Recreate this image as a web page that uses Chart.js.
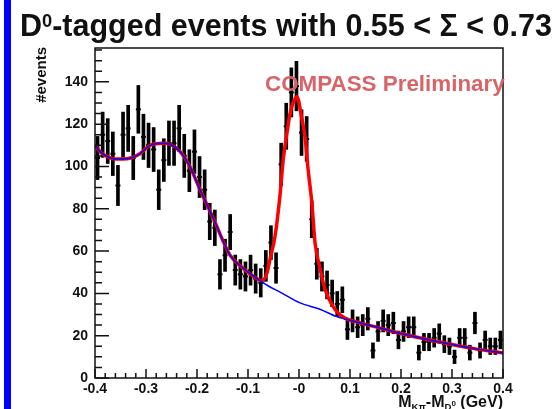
<!DOCTYPE html>
<html>
<head>
<meta charset="utf-8">
<script src="https://cdn.jsdelivr.net/npm/chart.js@4"></script>
<style>
    body { margin: 0; background: #fff; }
    #wrap {
        position: relative;
        width: 556px;
        height: 409px;
        overflow: hidden;
        font-family: "Liberation Sans", Arial, sans-serif;
        font-weight: bold;
        color: #111;
    }
    #wrap canvas { position: absolute; left: 0; top: 0; }
    .side-bar { position: absolute; left: 4px; top: 0; width: 7px; height: 409px; background: #0000ff; }
    .title { position: absolute; left: 20px; top: 10px; font-size: 30.5px; line-height: 30px; white-space: nowrap; }
    .title sup { font-size: 0.6em; position: relative; top: -0.2em; vertical-align: top; }
    .stamp { position: absolute; left: 265px; top: 73px; font-size: 22.4px; line-height: 22px; color: #d96468; white-space: nowrap; }
    .y-title {
        position: absolute; left: 33px; top: 147px; width: 100px;
        font-size: 15px; line-height: 15px; text-align: right;
        transform-origin: top left; transform: rotate(-90deg);
    }
    .x-title { position: absolute; right: 53px; top: 394px; font-size: 16px; line-height: 16px; white-space: nowrap; }
    .x-title sub { font-size: 0.6em; vertical-align: -0.35em; }
</style>
</head>
<body>
<div id="wrap">
    <canvas id="d0-chart" width="556" height="409"></canvas>
    <div class="side-bar"></div>
    <div class="title">D<sup>0</sup>-tagged events with 0.55 &lt; &Sigma; &lt; 0.73</div>
    <div class="stamp">COMPASS Preliminary</div>
    <div class="y-title">#events</div>
    <div class="x-title">M<sub>K&pi;</sub>-M<sub>D<sup>0</sup></sub> (GeV)</div>
</div>
<script>
// histogram bin centres (GeV)
const binCenters = [
    -0.395, -0.385, -0.375, -0.365, -0.355, -0.345, -0.335, -0.325, -0.315, -0.305,
    -0.295, -0.285, -0.275, -0.265, -0.255, -0.245, -0.235, -0.225, -0.215, -0.205,
    -0.195, -0.185, -0.175, -0.165, -0.155, -0.145, -0.135, -0.125, -0.115, -0.105,
    -0.095, -0.085, -0.075, -0.065, -0.055, -0.045, -0.035, -0.025, -0.015, -0.005,
    0.005, 0.015, 0.025, 0.035, 0.045, 0.055, 0.065, 0.075, 0.085, 0.095,
    0.105, 0.115, 0.125, 0.135, 0.145, 0.155, 0.165, 0.175, 0.185, 0.195,
    0.205, 0.215, 0.225, 0.235, 0.245, 0.255, 0.265, 0.275, 0.285, 0.295,
    0.305, 0.315, 0.325, 0.335, 0.345, 0.355, 0.365, 0.375, 0.385, 0.395,
];
const counts = [
    104, 115, 112, 106, 91, 115, 118, 104, 127, 114,
    110, 108, 89, 103, 111, 111, 118, 105, 98, 107,
    95, 89, 74, 71, 49, 58, 69, 51, 49, 48,
    51, 47, 45, 53, 64, 52, 101, 119, 135, 138,
    116, 113, 75, 54, 48, 44, 40, 35, 37, 23,
    27, 24, 25, 28, 13, 22, 27, 25, 26, 18,
    22, 24, 24, 12, 17, 17, 19, 21, 16, 15,
    10, 19, 19, 12, 26, 13, 18, 15, 15, 18,
];
const errors = [
    10.2, 10.7, 10.6, 10.3, 9.5, 10.7, 10.9, 10.2, 11.3, 10.7,
    10.5, 10.4, 9.4, 10.1, 10.5, 10.5, 10.9, 10.2, 9.9, 10.3,
    9.7, 9.4, 8.6, 8.4, 7.0, 7.6, 8.3, 7.1, 7.0, 6.9,
    7.1, 6.9, 6.7, 7.3, 8.0, 7.2, 10.0, 10.9, 11.6, 11.7,
    10.8, 10.6, 8.7, 7.3, 6.9, 6.6, 6.3, 5.9, 6.1, 4.8,
    5.2, 4.9, 5.0, 5.3, 3.6, 4.7, 5.2, 5.0, 5.1, 4.2,
    4.7, 4.9, 4.9, 3.5, 4.1, 4.1, 4.4, 4.6, 4.0, 3.9,
    3.2, 4.4, 4.4, 3.5, 5.1, 3.6, 4.2, 3.9, 3.9, 4.2,
];

// background fit (blue)
const bkgX = [
    -0.4, -0.39, -0.375, -0.36, -0.345, -0.33, -0.312, -0.292, -0.267, -0.253,
    -0.233, -0.214, -0.194, -0.169, -0.135, -0.11, -0.082, -0.06, -0.037, 0.002,
    0.041, 0.074, 0.114, 0.159, 0.212, 0.276, 0.341, 0.4,
];
const bkgY = [
    110, 107, 104.5, 103.5, 103.5, 104, 106, 110, 111, 110.5,
    107, 100, 89, 76, 58, 52, 47, 43.5, 40.6, 35.5,
    32.5, 29, 26.4, 23.6, 20.3, 17, 14, 11.8,
];

// total fit, signal + background (red)
const fitX = [
    -0.4, -0.39, -0.375, -0.36, -0.345, -0.33, -0.312, -0.292, -0.267, -0.253,
    -0.233, -0.214, -0.194, -0.169, -0.135, -0.11, -0.086, -0.0725, -0.063, -0.057,
    -0.047, -0.037, -0.031, -0.0235, -0.0176, -0.0117, -0.004, 0.0053, 0.0118, 0.0177,
    0.0255, 0.0314, 0.041, 0.051, 0.065, 0.0765, 0.09, 0.114, 0.159, 0.212,
    0.276, 0.341, 0.4,
];
const fitY = [
    110, 107, 104.5, 103.5, 103.5, 104, 106, 110, 111, 110.5,
    107, 100, 89, 76, 58, 52, 47.5, 46, 49.5, 56,
    67, 87, 103, 116, 125, 130, 133, 123, 114, 99,
    82, 64, 52, 42, 34.5, 30.7, 28.3, 26.4, 23.6, 20.3,
    17, 14, 11.8,
];

const yTickValues = [0, 20, 40, 60, 80, 100, 120, 140];
const xTickValues = [-0.4, -0.3, -0.2, -0.1, 0, 0.1, 0.2, 0.3, 0.4];
const xTickLabels = ["-0.4", "-0.3", "-0.2", "-0.1", "-0", "0.1", "0.2", "0.3", "0.4"];

const toPoints = (xs, ys) => xs.map((x, i) => ({ x, y: ys[i] }));

// ROOT-style frame with ticks pointing inside the pad
const rootFrame = {
    id: "rootFrame",
    afterDraw(chart) {
        const { ctx, chartArea: area, scales: { x, y } } = chart;
        ctx.save();
        ctx.strokeStyle = "#111";
        ctx.lineWidth = 1.5;
        ctx.strokeRect(area.left, area.top, area.right - area.left, area.bottom - area.top);
        ctx.beginPath();
        for (let v = 0; v < y.max; v += 5) {
            const py = y.getPixelForValue(v);
            const len = v % 20 === 0 ? 14 : 7;
            ctx.moveTo(area.left, py);
            ctx.lineTo(area.left + len, py);
        }
        for (let i = -20; i <= 20; i++) {
            const px = x.getPixelForValue(i * 0.02);
            const len = i % 5 === 0 ? 9 : 5;
            ctx.moveTo(px, area.bottom);
            ctx.lineTo(px, area.bottom - len);
        }
        ctx.stroke();
        ctx.restore();
    },
};

const tickFont = { family: "'Liberation Sans', Arial, sans-serif", size: 14, weight: "bold" };

new Chart(document.getElementById("d0-chart"), {
    type: "scatter",
    data: {
        datasets: [
            {
                type: "line",
                data: toPoints(bkgX, bkgY),
                borderColor: "#0000ff",
                borderWidth: 1.5,
                pointRadius: 0,
                cubicInterpolationMode: "monotone",
            },
            {
                type: "line",
                data: toPoints(fitX, fitY),
                borderColor: "#ff0000",
                borderWidth: 3.5,
                pointRadius: 0,
                cubicInterpolationMode: "monotone",
            },
            {
                type: "scatter",
                data: toPoints(binCenters, counts),
                pointStyle: "line",
                pointRadius: 2.5,
                borderWidth: 2,
                borderColor: "#000",
            },
            {
                type: "bar",
                data: binCenters.map((x, i) => ({ x, y: [counts[i] - errors[i], counts[i] + errors[i]] })),
                backgroundColor: "#000",
                barThickness: 3,
            },
        ],
    },
    options: {
        responsive: false,
        animation: false,
        events: [],
        layout: { padding: { left: 0, top: 48, right: 53, bottom: 0 } },
        plugins: {
            legend: { display: false },
            tooltip: { enabled: false },
        },
        scales: {
            x: {
                type: "linear",
                min: -0.4,
                max: 0.4,
                offset: false,
                grid: { display: false, drawTicks: false },
                border: { display: false },
                afterBuildTicks(axis) {
                    axis.ticks = xTickValues.map((value) => ({ value }));
                },
                afterFit(axis) {
                    axis.height = 31;
                },
                ticks: {
                    padding: 3,
                    color: "#111",
                    font: tickFont,
                    maxRotation: 0,
                    autoSkip: false,
                    callback(value, index) {
                        return xTickLabels[index];
                    },
                },
            },
            y: {
                min: 0,
                max: 156,
                grid: { display: false, drawTicks: false },
                border: { display: false },
                afterBuildTicks(axis) {
                    axis.ticks = yTickValues.map((value) => ({ value }));
                },
                afterFit(axis) {
                    axis.width = 95;
                },
                ticks: { padding: 7, color: "#111", font: tickFont },
            },
        },
    },
    plugins: [rootFrame],
});
</script>
</body>
</html>
